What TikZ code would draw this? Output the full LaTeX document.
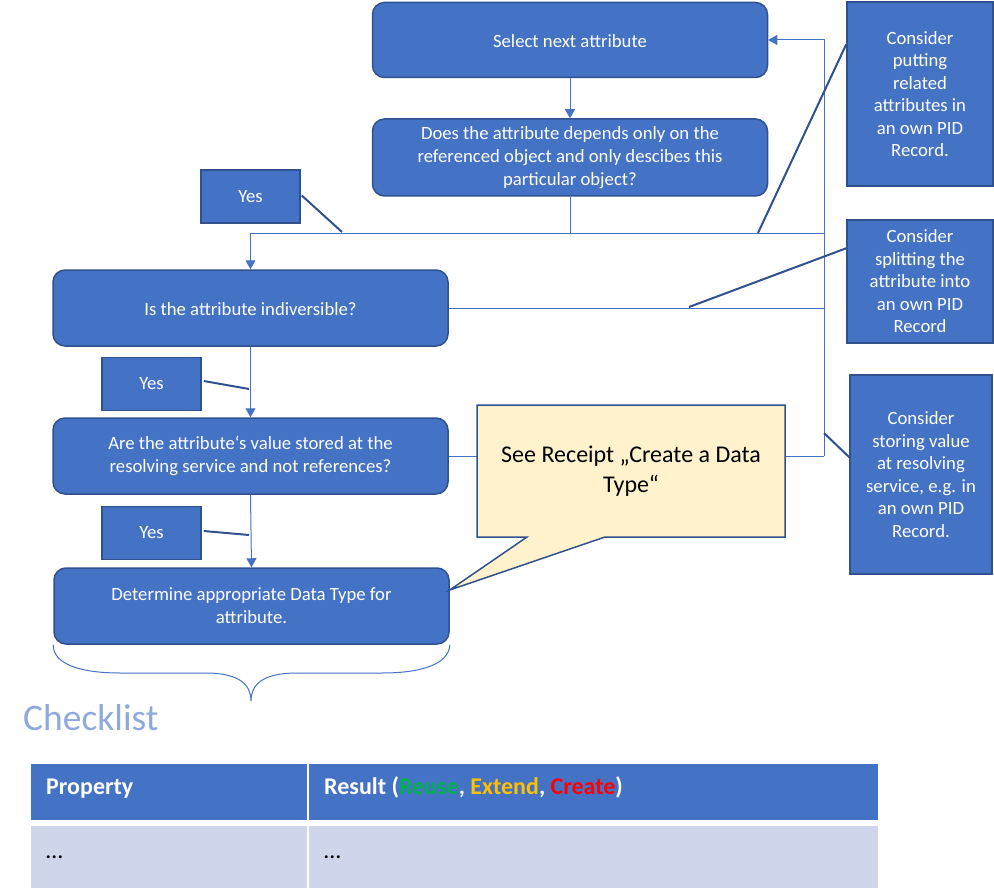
\documentclass[tikz,border=0pt]{standalone}
\usepackage{fontspec}
\setmainfont{Carlito}
\usetikzlibrary{arrows.meta,calc}
\definecolor{bfill}{HTML}{4472C4}
\definecolor{bdraw}{HTML}{2F528F}
\definecolor{yfill}{HTML}{FFF2CC}
\definecolor{chk}{HTML}{8EAADB}
\definecolor{rowfill}{HTML}{CFD5EA}
\definecolor{reuseg}{HTML}{00B050}
\definecolor{extendy}{HTML}{FFC000}
\definecolor{creater}{HTML}{FF0000}
\tikzset{
  flow/.style={draw=bdraw, line width=1.5pt, fill=bfill, rounded corners=12pt, text=white, align=center,
    font=\fontsize{18.7}{23}\selectfont, minimum width=395pt, minimum height=76pt, inner sep=0pt},
  yesbox/.style={draw=bdraw, line width=1.5pt, fill=bfill, text=white, font=\fontsize{18.7}{23}\selectfont,
    minimum width=99pt, minimum height=53pt, inner sep=0pt},
  note/.style={draw=bdraw, line width=1.5pt, fill=bfill, text=white, align=center,
    font=\fontsize{18.7}{22.5}\selectfont, inner sep=0pt},
  conn/.style={draw=bfill, line width=1pt, -{Triangle[length=9pt,width=10pt]}},
  wire/.style={draw=bfill, line width=1pt},
  lead/.style={draw=bdraw, line width=2pt},
  callout/.style={fill=yfill, draw=bdraw, line width=1.5pt},
  hdr/.style={fill=bfill},
  row/.style={fill=rowfill},
  celltext/.style={anchor=west, font=\fontsize{24}{28}\selectfont, inner sep=0pt},
  lowtext/.style={text height=15.5pt, text depth=0pt}
}
\begin{document}
\begin{tikzpicture}[x=1pt,y=-1pt]
\useasboundingbox (0,0) rectangle (994,888);

% main flow boxes
\node[flow, minimum height=75pt, lowtext] (A) at (570,40) {Select next attribute};
\node[flow, minimum height=77pt] (B) at (570,157.5) {Does the attribute depends only on the\\referenced object and only descibes this\\particular object?};
\node[flow, lowtext] (C) at (250.5,308) {Is the attribute indiversible?};
\node[flow] (D) at (250.5,456) {Are the attribute‘s value stored at the\\resolving service and not references?};
\node[flow] (E) at (251.5,606) {Determine appropriate Data Type for\\attribute.};

% yes labels
\node[yesbox] (Y1) at (250.5,196.5) {Yes};
\node[yesbox] (Y2) at (151.5,384) {Yes};
\node[yesbox] (Y3) at (151.5,533) {Yes};

% notes
\node[note, minimum width=146pt, minimum height=184pt] (N1) at (920,94) {Consider\\putting\\related\\attributes in\\an own PID\\Record.};
\node[note, minimum width=146pt, minimum height=123pt] (N2) at (920,281.5) {Consider\\splitting the\\attribute into\\an own PID\\Record};
\node[note, minimum width=142pt, minimum height=199pt] (N3) at (921,474.5) {Consider\\storing value\\at resolving\\service, e.g. in\\an own PID\\Record.};

% junction coordinates
\coordinate (bj) at (570,233);
\coordinate (rj) at (824,233);
\coordinate (rtop) at (824,40);
\coordinate (rbot) at (824,456);

% connectors
\draw[conn] (A.south) -- (B.north);
\draw[conn] (B.south) -- (bj) -| (C.north);
\draw[wire] (bj) -- (rj);
\draw[conn] (rbot) -- (rtop) -- (A.east);
\draw[wire] (C.east) -- (C.east -| rtop);
\draw[wire] (D.east) -- (rbot);
\draw[conn] (C.south) -- (D.north);
\draw[conn] (D.south) -- (E.north);

% yes leader lines
\coordinate (y1e) at (342,232);
\coordinate (y2e) at (249,389);
\coordinate (y3e) at (249,535);
\draw[lead] ([xshift=1pt,yshift=1pt]Y1.east) -- (y1e);
\draw[lead] ([xshift=2pt,yshift=3pt]Y2.east) -- (y2e);
\draw[lead] ([xshift=2pt,yshift=2pt]Y3.east) -- (y3e);

% note leader lines
\coordinate (n1e) at (758,233);
\coordinate (n2e) at (689,307);
\coordinate (n3e) at (824,433);
\draw[lead] (n1e) -- ([yshift=-43pt]N1.north west);
\draw[lead] (n2e) -- ([yshift=-29pt]N2.north west);
\draw[lead] (n3e) -- ([yshift=-83pt]N3.north west);

% callout
\path[callout] (477,405) -- (785,405) -- (785,537) -- (605,537) -- ([yshift=16pt]E.east) -- (527,537) -- (477,537) -- cycle;
\node[align=center, font=\fontsize{24}{30}\selectfont, text=black] (CO) at (631,471) {See Receipt „Create a Data\\Type“};

% brace
\draw[wire] (E.south west) .. controls (53,664) and (80,673) .. (120,673) -- (205,673)
  .. controls (240,673) and (251,685) .. (251,701) coordinate (btip)
  .. controls (251,685) and (262,673) .. (297,673) -- (382,673)
  .. controls (422,673) and (449,664) .. (E.south east);

% checklist
\node[anchor=base west, inner sep=0pt, text=chk, font=\fontsize{37.5}{40}\selectfont] (CL) at (23,730) {Checklist};

% table
\path[hdr] (31,764) rectangle (307,820);
\path[hdr] (309,764) rectangle (878,820);
\path[row] (31,826) rectangle (307,888);
\path[row] (309,826) rectangle (878,888);
\node[celltext, anchor=base west, text=white, font=\bfseries\fontsize{24}{28}\selectfont] (P) at (46,794) {Property};
\node[celltext, anchor=base west, text=white, font=\bfseries\fontsize{24}{28}\selectfont] (R) at (324,794) {Result (\textcolor{reuseg}{Reuse}, \textcolor{extendy}{Extend}, \textcolor{creater}{Create})};
\node[celltext, anchor=base west] (P2) at (46,858) {…};
\node[celltext, anchor=base west] (R2) at (324,858) {…};
\end{tikzpicture}
\end{document}
